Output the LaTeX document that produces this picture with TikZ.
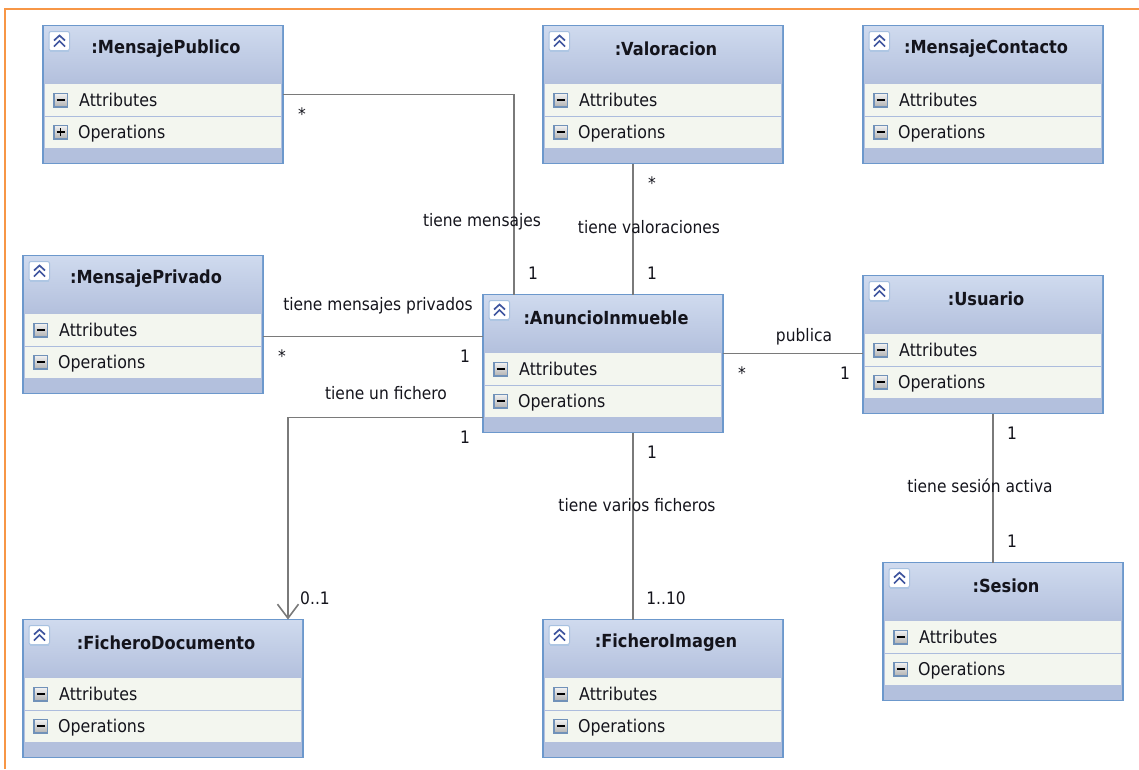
\documentclass[tikz,border=0pt]{standalone}
\usepackage{fontspec}
\setmainfont{DejaVu Sans}[FakeStretch=0.9]
\usepackage{tikz}
\usetikzlibrary{arrows.meta}
\definecolor{frameline}{HTML}{F79646}
\definecolor{boxline}{HTML}{6C98CC}
\definecolor{boxfoot}{HTML}{B3C0DD}
\definecolor{boxtop}{HTML}{CFDAEE}
\definecolor{rowfill}{HTML}{F3F6EF}
\definecolor{rowline}{HTML}{ACBCDD}
\definecolor{iconblue}{HTML}{3F559F}
\definecolor{linkline}{HTML}{7A7A7A}
\definecolor{textdark}{HTML}{14141C}
\tikzset{
  classbox/.style={draw=boxline,fill=boxfoot,line width=1.8pt,minimum height=138pt,inner sep=0pt,outer sep=0pt},
  classname/.style={font=\fontsize{18}{18}\selectfont\bfseries,text=textdark,inner sep=0pt},
  rowlabel/.style={font=\fontsize{17.6}{18}\selectfont,text=textdark,inner sep=0pt,anchor=base west},
  rowbutton/.style={draw=boxline!75!gray,top color=white!90!gray,bottom color=gray!60,line width=1.5pt,minimum size=13.5pt,inner sep=0pt,outer sep=0pt},
  linklabel/.style={font=\fontsize{17.2}{18}\selectfont,text=textdark,inner sep=0pt},
  link/.style={draw=linkline,line width=1.6pt}
}
\begin{document}
\begin{tikzpicture}[x=1pt,y=-1pt]
\useasboundingbox (0,0) rectangle (1139,769);
\draw[frameline,line width=2.6pt] (5,769) -- (5,9) -- (1139,9);
\foreach \name/\cx/\cy/\wide/\title/\sign in {
  mpublico/163/94.5/240/MensajePublico/+,
  valoracion/663/94.5/240/Valoracion/-,
  mcontacto/983/94.5/240/MensajeContacto/-,
  mprivado/143/324.5/240/MensajePrivado/-,
  anuncio/603/363.5/240/AnuncioInmueble/-,
  usuario/983/344.5/240/Usuario/-,
  sesion/1003/631.5/240/Sesion/-,
  fdocumento/163/688.5/280/FicheroDocumento/-,
  fimagen/663/688.5/240/FicheroImagen/-}
{
  \node[classbox,minimum width=\wide pt] (\name) at (\cx,\cy) {};
  \shade[top color=boxtop,bottom color=boxfoot] ([shift={(1pt,-1pt)}]\name.north west) rectangle ([shift={(-1pt,-58pt)}]\name.north east);
  \fill[rowfill] ([shift={(2pt,-58pt)}]\name.north west) rectangle ([shift={(-2pt,-122pt)}]\name.north east);
  \draw[rowline,line width=1pt] ([shift={(2pt,-90.5pt)}]\name.north west) -- ([shift={(-2pt,-90.5pt)}]\name.north east);
  \node[classname] (\name-title) at ([shift={(3pt,-23.5pt)}]\name.north) {:\title};
  % icon
  \fill[white,draw=boxline!60,line width=1pt,rounded corners=2pt] ([shift={(6pt,-6pt)}]\name.north west) rectangle ([shift={(26.5pt,-25pt)}]\name.north west);
  \draw[boxline!55,line width=1.4pt] ([shift={(7pt,-25.5pt)}]\name.north west) -- ([shift={(26pt,-25.5pt)}]\name.north west);
  \draw[iconblue,line width=1.7pt] ([shift={(11pt,-15pt)}]\name.north west) -- ([shift={(16.5pt,-10pt)}]\name.north west) -- ([shift={(22pt,-15pt)}]\name.north west)
    ([shift={(11pt,-21pt)}]\name.north west) -- ([shift={(16.5pt,-15.5pt)}]\name.north west) -- ([shift={(22pt,-21pt)}]\name.north west);
  % compartments
  \node[rowbutton] (\name-attrbtn) at ([shift={(17.5pt,-74.5pt)}]\name.north west) {};
  \draw[black,line width=1.6pt] ([xshift=-4pt]\name-attrbtn.center) -- ([xshift=4pt]\name-attrbtn.center);
  \node[rowlabel] (\name-attr) at ([shift={(36pt,-81pt)}]\name.north west) {Attributes};
  \node[rowbutton] (\name-operbtn) at ([shift={(17.5pt,-106.5pt)}]\name.north west) {};
  \draw[black,line width=1.6pt] ([xshift=-4pt]\name-operbtn.center) -- ([xshift=4pt]\name-operbtn.center);
  \if\sign+\draw[black,line width=1.6pt] ([yshift=-4pt]\name-operbtn.center) -- ([yshift=4pt]\name-operbtn.center);\fi
  \node[rowlabel] (\name-oper) at ([shift={(35pt,-113pt)}]\name.north west) {Operations};
}
\draw[link] (mpublico.east) -| ([xshift=-89pt]anuncio.north);
\draw[link] ([xshift=-30pt]valoracion.south) -- ([xshift=30pt]anuncio.north);
\draw[link] ([yshift=-12pt]mprivado.east) -- ([yshift=27pt]anuncio.west);
\draw[link] ([yshift=10pt]anuncio.east) -- ([yshift=-9pt]usuario.west);
\draw[link] ([xshift=10pt]usuario.south) -- ([xshift=-10pt]sesion.north);
\draw[link] ([xshift=30pt]anuncio.south) -- ([xshift=-30pt]fimagen.north);
\draw[link,-{Straight Barb[length=14pt,width=21pt,line width=1.6pt]}] ([yshift=-54pt]anuncio.west) -| ([xshift=125pt]fdocumento.north);
\node[linklabel] (mpublico-n) at (302,114) {*};
\node[linklabel] (mpublico-t) at (482,222) {tiene mensajes};
\node[linklabel] (mpublico-a) at (533,273) {1};
\node[linklabel] (valoracion-n) at (652,183) {*};
\node[linklabel] (valoracion-t) at (649,227) {tiene valoraciones};
\node[linklabel] (valoracion-a) at (652,273) {1};
\node[linklabel] (mprivado-t) at (378,306) {tiene mensajes privados};
\node[linklabel] (mprivado-n) at (282,356) {*};
\node[linklabel] (mprivado-a) at (465,356) {1};
\node[linklabel] (fdocumento-t) at (386,393) {tiene un fichero};
\node[linklabel] (fdocumento-a) at (465,437) {1};
\node[linklabel] (fdocumento-n) at (315,598) {0..1};
\node[linklabel] (usuario-n) at (742,373) {*};
\node[linklabel] (usuario-a) at (845,373) {1};
\node[linklabel] (usuario-t) at (804,337) {publica};
\node[linklabel] (sesion-a) at (1012,433) {1};
\node[linklabel] (sesion-t) at (980,486) {tiene sesión activa};
\node[linklabel] (sesion-n) at (1012,541) {1};
\node[linklabel] (fimagen-a) at (652,452) {1};
\node[linklabel] (fimagen-t) at (637,505) {tiene varios ficheros};
\node[linklabel] (fimagen-n) at (666,598) {1..10};
\end{tikzpicture}
\end{document}
